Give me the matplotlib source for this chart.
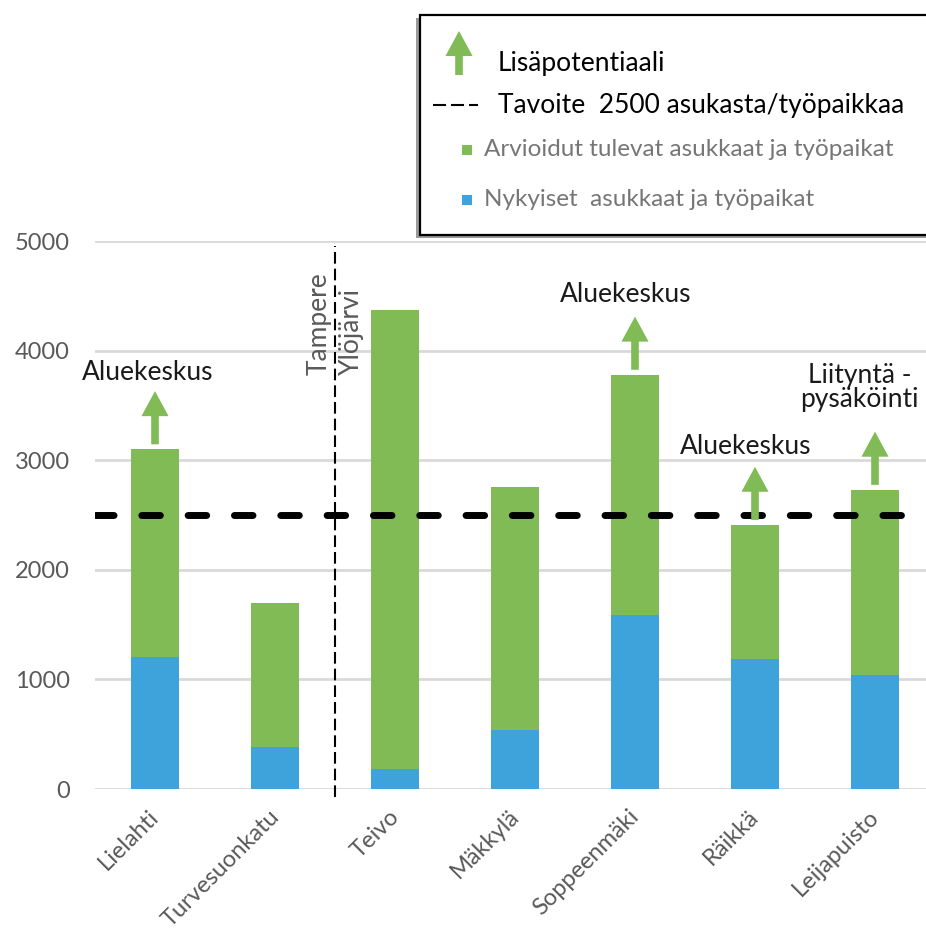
import matplotlib
matplotlib.use("Agg")
import matplotlib.pyplot as plt
from matplotlib.patches import FancyArrowPatch, Rectangle
from matplotlib.lines import Line2D
from matplotlib.transforms import ScaledTranslation

plt.rcParams['font.family'] = ['Lato', 'DejaVu Sans']

# --- data -------------------------------------------------------------
areas = ["Lielahti", "Turvesuonkatu", "Teivo", "Mäkkylä",
         "Soppeenmäki", "Räikkä", "Leijapuisto"]
current = [1200, 380, 180, 540, 1590, 1190, 1040]        # Nykyiset
total = [3100, 1700, 4370, 2760, 3780, 2410, 2730]       # nykyiset + tulevat
future = [t - c for t, c in zip(total, current)]          # Arvioidut tulevat
target = 2500
yticks = [0, 1000, 2000, 3000, 4000, 5000]

# areas with extra potential (arrow + note)
potential_idx = [0, 4, 5, 6]
potential_note = ["Aluekeskus", "Aluekeskus", "Aluekeskus", "Liityntä -\npysäköinti"]
note_gap = [105, 133, 114, 222]
note_shift = [-0.06, -0.08, -0.08, -0.13]

border_pos = 1.5   # municipal border between Tampere and Ylöjärvi

GREEN = "#80bb56"
BLUE = "#3fa3db"
GRID = "#d9d9d9"
TICK = "#595959"

fig = plt.figure(figsize=(9.26, 9.32), dpi=100)
ax = fig.add_axes([95 / 926, 1 - 789 / 932, 1 - 95 / 926, (789 - 241) / 932])

x = list(range(len(areas)))
ax.bar(x, current, width=0.4, color=BLUE, zorder=3)
ax.bar(x, future, width=0.4, bottom=current, color=GREEN, zorder=3)

ax.set_xlim(-0.5, 6.425)
ax.set_ylim(0, 5000)
ax.set_yticks(yticks)
ax.yaxis.grid(True, color=GRID, lw=2)
ax.set_axisbelow(True)
for s in ax.spines.values():
    s.set_visible(False)
ax.tick_params(axis="y", length=0, pad=18, labelsize=17, labelcolor=TICK)
ax.tick_params(axis="x", length=0, pad=12, labelsize=17, labelcolor=TICK)
ax.set_xticks(x)
ax.set_xticklabels(areas, rotation=45, ha="right")
for lbl in ax.get_xticklabels():
    lbl.set_transform(lbl.get_transform() + ScaledTranslation(0.08, 0, fig.dpi_scale_trans))

# target line
ax.axhline(target, color="black", lw=5, linestyle=(0, (2.67, 4.0)),
           dash_capstyle="round", zorder=4)

# municipal border
ax.plot([border_pos, border_pos], [-70, 4950], color="black", lw=1.5,
        linestyle=(0, (5.6, 2.4)), clip_on=False, zorder=4)
ax.text(border_pos - 0.03, 3780, "Tampere", rotation=90, ha="right", va="bottom",
        fontsize=19, color=TICK)
ax.text(border_pos + 0.03, 3780, "Ylöjärvi", rotation=90, ha="left", va="bottom",
        fontsize=19, color=TICK)

# potential arrows and notes
arrow_style = "simple,head_length=1.8,head_width=1.95,tail_width=0.55"
for i, note, gap, dx in zip(potential_idx, potential_note, note_gap, note_shift):
    base = total[i] + 45
    tip = base + 485
    ax.add_patch(FancyArrowPatch((i, base), (i, tip), arrowstyle=arrow_style,
                                 mutation_scale=10, color=GREEN, lw=0,
                                 shrinkA=0, shrinkB=0, zorder=5, clip_on=False))
    ax.text(i + dx, tip + gap, note, ha="center", va="baseline",
            fontsize=19, color="#1a1a1a", linespacing=0.95, clip_on=False)

# --- legend box drawn in pixel space ---------------------------------
lax = fig.add_axes([0, 0, 1, 1], zorder=10)
lax.set_xlim(0, 926)
lax.set_ylim(932, 0)
lax.axis("off")
lax.add_patch(Rectangle((416, 18), 520, 220, facecolor="#9a9a9a", edgecolor="none"))
lax.add_patch(Rectangle((420, 15), 520, 220, facecolor="white", edgecolor="black", lw=1.6))
lax.add_patch(FancyArrowPatch((459, 75), (459, 31), arrowstyle=arrow_style,
                              mutation_scale=10, color=GREEN, lw=0, shrinkA=0, shrinkB=0))
lax.text(498, 63, "Lisäpotentiaali", fontsize=19, color="black", va="center")
lax.add_line(Line2D([433, 478], [105, 105], color="black", lw=1.5,
                    linestyle=(0, (6.25, 2.4))))
lax.text(498, 105, "Tavoite  2500 asukasta/työpaikkaa", fontsize=19,
         color="black", va="center")
lax.add_patch(Rectangle((462, 145), 10, 10, facecolor=GREEN, edgecolor="none"))
lax.text(484, 150, "Arvioidut tulevat asukkaat ja työpaikat", fontsize=17.5,
         color="#767676", va="center")
lax.add_patch(Rectangle((462, 195), 10, 10, facecolor=BLUE, edgecolor="none"))
lax.text(484, 200, "Nykyiset  asukkaat ja työpaikat", fontsize=17.5,
         color="#767676", va="center")

fig.savefig("out.png", dpi=100)
